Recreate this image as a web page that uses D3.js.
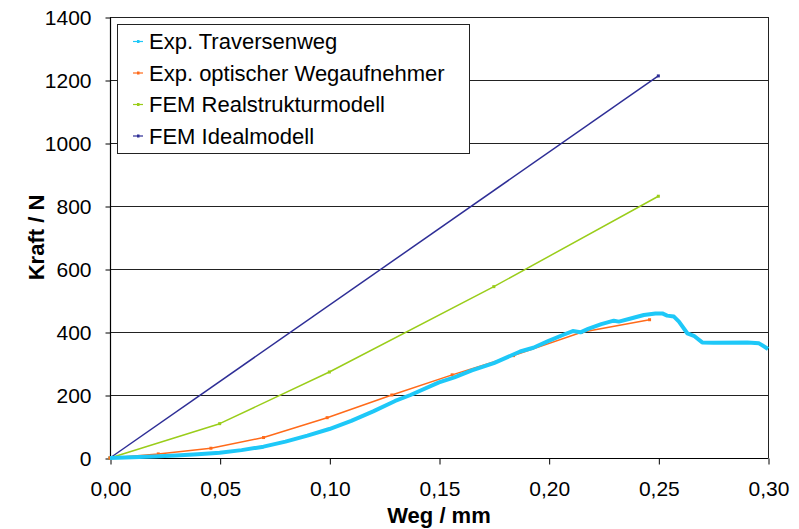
<!DOCTYPE html>
<html>
<head>
<meta charset="utf-8">
<script src="https://cdn.jsdelivr.net/npm/d3@7/dist/d3.min.js"></script>
<style>
  body { margin: 0; background: #fff; }
  svg text { font-family: "Liberation Sans", Arial, sans-serif; fill: #000; }
</style>
</head>
<body>
<div id="chart"></div>
<script>
// Messwerte (Weg in mm, Kraft in N)
var seriesNames = ["Exp. Traversenweg", "Exp. optischer Wegaufnehmer", "FEM Realstrukturmodell", "FEM Idealmodell"]
var seriesColors = ["#1ec8f8", "#ff6a1a", "#9acd1a", "#2e2e96"]

var travX = [0, 0.01, 0.02, 0.03, 0.04, 0.05, 0.06, 0.07, 0.08, 0.09, 0.10, 0.11, 0.12, 0.13, 0.137, 0.15, 0.157, 0.165, 0.175, 0.187, 0.193, 0.20, 0.207, 0.211, 0.2145, 0.218, 0.224, 0.2297, 0.232, 0.237, 0.2434, 0.2487, 0.2518, 0.254, 0.2571, 0.2594, 0.2632, 0.2662, 0.27, 0.275, 0.2906, 0.2959, 0.30]
var travY = [0, 2, 5, 8, 12, 17, 25, 36, 52, 71, 92, 118, 148, 181, 200, 240, 256, 278, 301, 338, 350, 372, 392, 403, 399, 410, 425, 436, 433, 442, 454, 459, 459, 452, 449, 433, 396, 388, 367, 366, 367, 364, 346]

var optX = [0, 0.022, 0.046, 0.070, 0.099, 0.1285, 0.156, 0.184, 0.215, 0.246]
var optY = [0, 13, 31, 65, 128, 200, 264, 325, 399, 439]

var realX = [0, 0.05, 0.10, 0.175, 0.25]
var realY = [0, 109, 273, 544, 831]

var idealX = [0, 0.25]
var idealY = [0, 1213]

var xTicks = [0, 0.05, 0.10, 0.15, 0.20, 0.25, 0.30]
var yTicks = [0, 200, 400, 600, 800, 1000, 1200, 1400]

var W = 799, H = 529
var pL = 110, pR = 768, pT = 17, pB = 458

var svg = d3.select("#chart").append("svg").attr("width", W).attr("height", H)

var x = d3.scaleLinear().domain([0, 0.30]).range([pL, pR])
var y = d3.scaleLinear().domain([0, 1400]).range([pB, pT])

// Gitterlinien
svg.append("g").selectAll("line").data(yTicks.slice(1)).enter().append("line")
  .attr("x1", pL).attr("x2", pR)
  .attr("y1", function(d){ return Math.round(y(d)) + 0.5 })
  .attr("y2", function(d){ return Math.round(y(d)) + 0.5 })
  .style("stroke", "#222").style("stroke-width", 1)

// rechter Rand
svg.append("line")
  .attr("x1", pR + 0.5).attr("x2", pR + 0.5)
  .attr("y1", pT).attr("y2", pB)
  .style("stroke", "#222")

// Achsen
var yAxis = d3.axisLeft(y).tickValues(yTicks).tickSize(5).tickPadding(14)
  .tickFormat(d3.format("d"))
var gy = svg.append("g").attr("transform", "translate(" + (pL + 0.5) + ",0.5)").call(yAxis)

var xAxis = d3.axisBottom(x).tickValues(xTicks).tickSize(6).tickPadding(17)
  .tickFormat(function(d){ return d.toFixed(2).replace(".", ",") })
var gx = svg.append("g").attr("transform", "translate(0.5," + (pB + 0.5) + ")").call(xAxis)

;[gx, gy].forEach(function(g){
  g.select(".domain").style("stroke", "#000").style("stroke-width", 1.2)
  g.selectAll(".tick line").style("stroke", "#000")
  g.selectAll(".tick text").style("font-size", "21px")
    .style("font-family", "'Liberation Sans', Arial, sans-serif")
})
gy.select(".domain").attr("d", "M0," + y(1400) + "V" + y(0))
gx.select(".domain").attr("d", "M" + pL + ",0H" + pR)

// Achsentitel
svg.append("text")
  .attr("x", (pL + pR) / 2).attr("y", 523)
  .attr("text-anchor", "middle")
  .style("font-size", "22px").style("font-weight", "bold")
  .text("Weg / mm")

svg.append("text")
  .attr("transform", "translate(44," + ((pT + pB) / 2) + ") rotate(-90)")
  .attr("text-anchor", "middle")
  .style("font-size", "22px").style("font-weight", "bold")
  .text("Kraft / N")

// Kurven
var seriesData = [
  d3.zip(travX, travY),
  d3.zip(optX, optY),
  d3.zip(realX, realY),
  d3.zip(idealX, idealY)
]
var widths = [4, 1.5, 1.5, 1.5]

var line = d3.line()
  .x(function(d){ return x(d[0]) })
  .y(function(d){ return y(d[1]) })

// Reihenfolge: Ideal, Real, optisch, Traverse oben
;[3, 2, 1, 0].forEach(function(i){
  svg.append("path")
    .datum(seriesData[i])
    .attr("d", line)
    .style("fill", "none")
    .style("stroke", seriesColors[i])
    .style("stroke-width", widths[i])
    .style("stroke-linejoin", "round")

  if (i > 0) {
    svg.append("g").selectAll("rect").data(seriesData[i]).enter().append("rect")
      .attr("x", function(d){ return x(d[0]) - 1.5 })
      .attr("y", function(d){ return y(d[1]) - 1.5 })
      .attr("width", 3).attr("height", 3)
      .style("fill", seriesColors[i])
  }
})

// Legende
var lg = svg.append("g")
lg.append("rect")
  .attr("x", 117.5).attr("y", 24.5).attr("width", 352).attr("height", 129)
  .style("fill", "#fff").style("stroke", "#222")

seriesNames.forEach(function(name, i){
  var base = 49 + i * 31.5
  lg.append("line")
    .attr("x1", 133).attr("x2", 143)
    .attr("y1", base - 7.5).attr("y2", base - 7.5)
    .style("stroke", seriesColors[i]).style("stroke-width", 1.2)
  lg.append("rect")
    .attr("x", 137).attr("y", base - 9).attr("width", 2.5).attr("height", 3)
    .style("fill", seriesColors[i])
  lg.append("text")
    .attr("x", 149).attr("y", base)
    .style("font-size", "22px")
    .text(name)
})
</script>
</body>
</html>
